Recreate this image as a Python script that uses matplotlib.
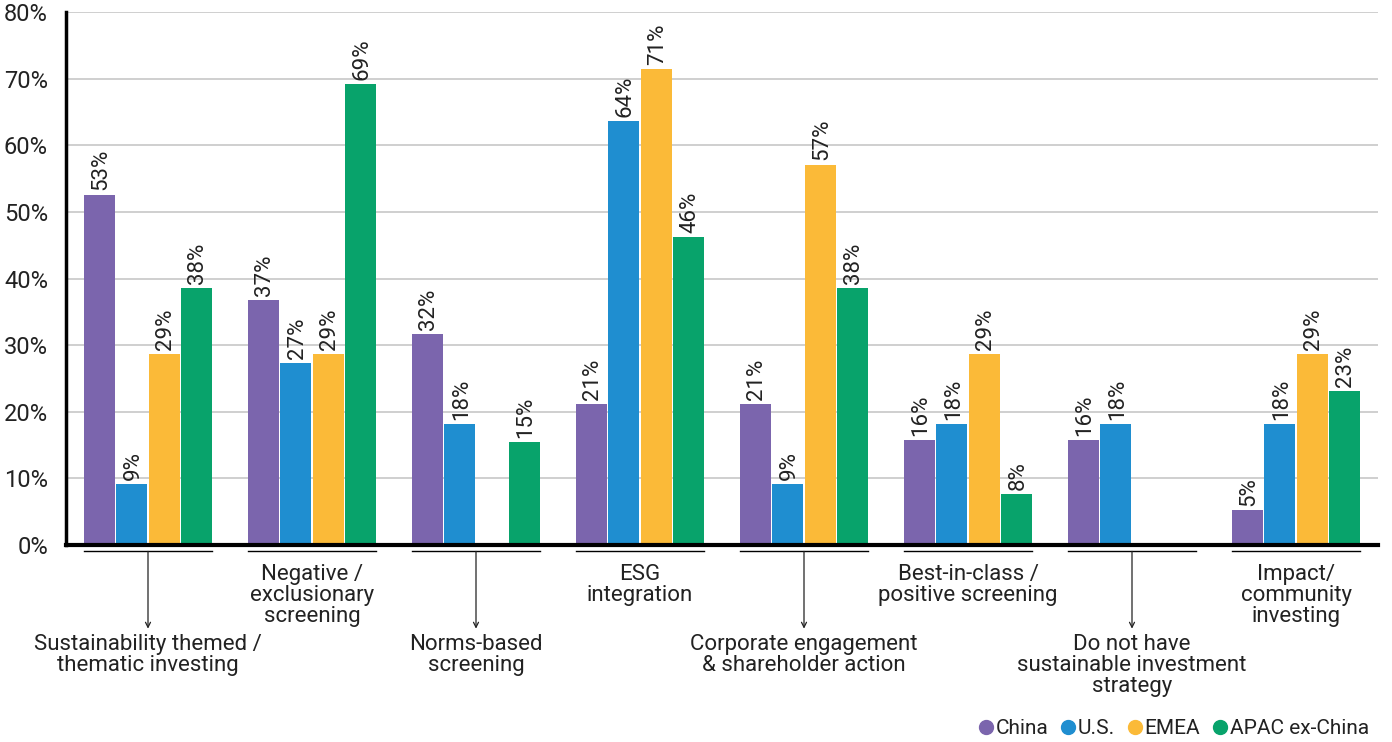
import matplotlib
matplotlib.use("Agg")
import matplotlib.pyplot as plt
from matplotlib.lines import Line2D
import numpy as np

plt.rcParams['font.family'] = ['Roboto', 'DejaVu Sans']

categories = [
    "Sustainability themed /\nthematic investing",
    "Negative /\nexclusionary\nscreening",
    "Norms-based\nscreening",
    "ESG\nintegration",
    "Corporate engagement\n& shareholder action",
    "Best-in-class /\npositive screening",
    "Do not have\nsustainable investment\nstrategy",
    "Impact/\ncommunity\ninvesting",
]
series_names = ["China", "U.S.", "EMEA", "APAC ex-China"]
china = [52.6, 36.8, 31.6, 21.1, 21.1, 15.8, 15.8, 5.3]
us = [9.1, 27.3, 18.2, 63.6, 9.1, 18.2, 18.2, 18.2]
emea = [28.6, 28.6, 0.0, 71.4, 57.1, 28.6, 0.0, 28.6]
apac = [38.5, 69.2, 15.4, 46.2, 38.5, 7.7, 0.0, 23.1]
colors = ["#7B65AD", "#1F8ED0", "#FBBA38", "#08A36B"]
yticks = [0, 10, 20, 30, 40, 50, 60, 70, 80]

fig = plt.figure(figsize=(13.92, 7.42), dpi=100)
ax = fig.add_axes([66 / 1392, 1 - 545 / 742, (1378 - 66) / 1392, 533 / 742])

x = np.arange(len(categories))
slot = 0.197
width = 0.188
for i, (vals, col) in enumerate(zip([china, us, emea, apac], colors)):
    pos = x + (i - 1.5) * slot
    ax.bar(pos, vals, width=width, color=col, zorder=3)
    for px, v in zip(pos, vals):
        if v > 0:
            ax.annotate(f"{v:.0f}%", (px, v), xytext=(1, 3), textcoords="offset points",
                        rotation=90, ha="center", va="bottom", fontsize=16,
                        color="#222222", zorder=4)

ax.set_xlim(-0.5, len(categories) - 0.5)
ax.set_ylim(0, 80)
ax.set_yticks(yticks)
ax.set_yticklabels([f"{t}%" for t in yticks], fontsize=17, color="#222222")
ax.tick_params(axis="y", length=0, pad=13)
ax.set_xticks([])
ax.grid(axis="y", color="#CCCCCC", linewidth=1.3, zorder=0)
for s in ["top", "right"]:
    ax.spines[s].set_visible(False)
ax.spines["left"].set_linewidth(2.5)
ax.spines["left"].set_zorder(5)
ax.spines["bottom"].set_linewidth(3)
ax.spines["bottom"].set_zorder(5)

# Category brackets and labels below the axis
tr = ax.get_xaxis_transform()
bracket_y = -0.012
half = 0.39
for i, label in enumerate(categories):
    ax.plot([i - half, i + half], [bracket_y, bracket_y], transform=tr,
            color="black", linewidth=1, clip_on=False)
    if i % 2 == 0:
        ax.annotate("", xy=(i, -0.157), xytext=(i, bracket_y), xycoords=tr, textcoords=tr,
                    arrowprops=dict(arrowstyle="->", color="#222222", lw=0.9,
                                    shrinkA=0, shrinkB=0, mutation_scale=9))
        ax.text(i, -0.167, label, transform=tr, ha="center", va="top", fontsize=16,
                color="#222222", linespacing=1.0)
    else:
        ax.text(i, -0.035, label, transform=tr, ha="center", va="top", fontsize=16,
                color="#222222", linespacing=1.0)

handles = [Line2D([0], [0], marker="o", linestyle="", markersize=10,
                  markerfacecolor=c, markeredgecolor=c) for c in colors]
fig.legend(handles, series_names, loc="center right", bbox_to_anchor=(0.997, 0.018),
           ncol=4, frameon=False, fontsize=15, handletextpad=0.02, columnspacing=0.5,
           handlelength=0.9, labelcolor="#222222")

fig.savefig("out.png", dpi=100)
